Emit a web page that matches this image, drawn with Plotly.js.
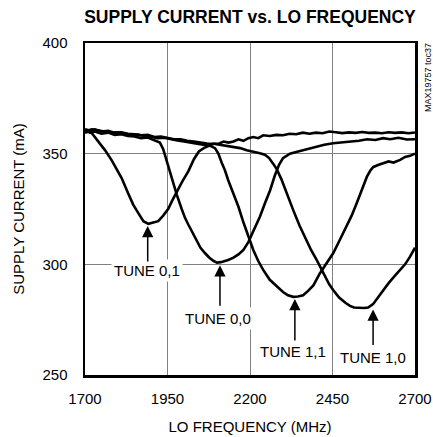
<!DOCTYPE html>
<html>
<head>
<meta charset="utf-8">
<script src="https://cdn.plot.ly/plotly-3.0.1.min.js"></script>
<style>html,body{margin:0;padding:0;background:#fff;}#chart{width:433px;height:437px;}</style>
</head>
<body>
<div id="chart"></div>
<script>
// ---- data ----
const tune01X = [1700,1712,1722,1730,1745,1761,1781,1796,1811,1831,1846,1862,1877,1892,1905,1922,1937,1952,1965,1978,1995,2013,2030,2045,2060,2075,2090,2105,2120,2135,2150,2165,2180,2195,2210,2225,2240,2260,2280,2300,2320,2340,2360,2380,2400,2420,2440,2460,2480,2500,2520,2540,2560,2580,2600,2620,2640,2660,2680,2700];
const tune01Y = [359.5,360,359,357.5,355,351.5,347,343,339,332,327,323,319.5,318.3,318.8,319.5,322,325,329,333,337.5,342,347.5,351,352.5,353.5,354.5,354.5,355.5,355,355.5,356.5,355.8,357,357.5,357,358.3,358,358.5,358.3,359,358.8,359.5,359,359.5,359.2,360,359.7,359.3,359.6,359.4,359.8,359.4,359.5,359.2,359.7,359.4,359.6,359.2,359.6];

const tune00X = [1700,1715,1730,1750,1770,1790,1810,1830,1850,1870,1890,1905,1915,1927,1937,1947,1958,1968,1978,1993,2003,2013,2025,2038,2050,2064,2077,2090,2100,2112,2125,2134,2150,2165,2180,2195,2210,2230,2245,2261,2275,2288,2300,2321,2340,2361,2380,2402,2425,2452,2475,2503,2530,2555,2580,2603,2625,2650,2675,2700];
const tune00Y = [360.5,359.5,360,359,359.5,358.5,358.8,358,357.8,357,357.3,356.5,356,355,352,347,341.5,336,331.5,325,321,318,314.5,310.5,307.5,305,303,301.5,300.8,301,301.5,302,303,304.5,306.5,310,315,321.5,327.5,333.5,340,345,348,350,350.8,351.6,352.5,353,354,354.7,355,355.4,355.8,356.5,356.2,357,356.5,357.2,356.4,356.5];

const tune11X = [1700,1720,1740,1760,1780,1800,1820,1840,1860,1880,1900,1920,1940,1960,1980,2000,2020,2040,2060,2080,2094,2104,2114,2124,2134,2150,2165,2180,2195,2210,2225,2240,2260,2281,2300,2315,2331,2345,2361,2376,2392,2412,2432,2452,2472,2493,2508,2523,2538,2554,2565,2574,2590,2604,2620,2635,2655,2670,2685,2700];
const tune11Y = [360,361,360.5,360,359.5,359.5,359,358.5,358.6,358,357.8,357,357.2,356.5,356,355.5,355,354.5,354,353.5,352.5,350,346,342.5,338,332,326,319,312.5,306.5,301.5,297.5,293,290,287.5,286,285.3,285.5,286,288,290.5,296,300.5,305,311,317,322,327.5,333.5,339.5,342.5,344,345,345.8,346.5,346,347.2,348.5,349,350];

const tune10X = [1700,1715,1730,1750,1770,1790,1810,1830,1850,1870,1890,1910,1930,1950,1970,1990,2010,2030,2050,2070,2090,2110,2130,2150,2170,2190,2210,2230,2245,2258,2270,2281,2295,2310,2331,2350,2365,2385,2402,2420,2440,2452,2470,2490,2503,2515,2530,2545,2558,2573,2590,2604,2620,2640,2655,2670,2685,2700];
const tune10Y = [361,360.5,361,360,360.3,359.5,359.7,359,358.7,358.3,358.5,357.5,357.7,357,356.5,356.5,355.8,355.5,355,354.6,354.5,354,353.5,353,352.5,351.5,351,350.2,349.5,348,345.5,343,338.5,332.5,324.5,317.5,312.5,306.5,302,297,291,288.4,285,282.5,281.2,280.5,280.3,280.3,280.5,282,285.5,288.5,291.5,295,297.5,300,303.5,307.5];

const xTicks = [1700,1950,2200,2450,2700];
const yTicks = [250,300,350,400];
const labels = ['TUNE 0,1','TUNE 0,0','TUNE 1,1','TUNE 1,0'];

const FONT = 'Liberation Sans, Arial, sans-serif';
const lineStyle = {color:'#000', width:2.6};

const traces = [
  {x:tune01X, y:tune01Y, name:labels[0]},
  {x:tune00X, y:tune00Y, name:labels[1]},
  {x:tune11X, y:tune11Y, name:labels[2]},
  {x:tune10X, y:tune10Y, name:labels[3]}
].map(t => Object.assign(t, {type:'scatter', mode:'lines', line:lineStyle, hoverinfo:'skip'}));

// label boxes (text) and arrows pointing at each dip
const textPos = [[1888,297.4],[2103,275.7],[2330,260.8],[2573,258.1]];
const arrowTip = [[1890,317.3],[2109,299.6],[2336,284.3],[2573,279.6]];
const arrowLen = [37,42,43,37];

const annotations = [];
labels.forEach((lab,i)=>{
  annotations.push({x:textPos[i][0], y:textPos[i][1], xref:'x', yref:'y', text:lab,
    showarrow:false, font:{family:FONT, size:15, color:'#000'}, bgcolor:'#fff', borderpad:2});
  annotations.push({x:arrowTip[i][0], y:arrowTip[i][1], xref:'x', yref:'y', text:'',
    showarrow:true, arrowhead:2, arrowsize:1.5, arrowwidth:1.5, arrowcolor:'#000', ax:0, ay:arrowLen[i]});
});
annotations.push({x:1.04, y:0.895, xref:'paper', yref:'paper', xanchor:'center', yanchor:'middle',
  text:'MAX19757 toc37', showarrow:false, textangle:-90, font:{family:FONT, size:9, color:'#000'}});

const layout = {
  width:433, height:437,
  margin:{l:85, r:18, t:43, b:62},
  paper_bgcolor:'#fff', plot_bgcolor:'#fff',
  font:{family:FONT, size:15, color:'#000'},
  showlegend:false,
  title:{text:'SUPPLY CURRENT vs. LO FREQUENCY', font:{family:FONT, size:17.5, weight:'bold', color:'#000'},
    x:0.5, xref:'paper', y:1-17/437, yref:'container', yanchor:'middle'},
  xaxis:{range:[1700,2700], tickvals:xTicks, ticktext:xTicks.map(String),
    showgrid:true, gridcolor:'#808080', gridwidth:1, zeroline:false,
    showline:true, linecolor:'#000', linewidth:2.5, mirror:true,
    ticks:'outside', ticklen:8, tickcolor:'rgba(0,0,0,0)',
    tickfont:{family:FONT, size:15, color:'#000'},
    title:{text:'LO FREQUENCY (MHz)', font:{family:FONT, size:15, color:'#000'}, standoff:16}},
  yaxis:{range:[250,400], tickvals:yTicks, ticktext:yTicks.map(String),
    showgrid:true, gridcolor:'#808080', gridwidth:1, zeroline:false,
    showline:true, linecolor:'#000', linewidth:2.5, mirror:true,
    ticks:'outside', ticklen:12, tickcolor:'rgba(0,0,0,0)',
    tickfont:{family:FONT, size:15, color:'#000'},
    title:{text:'SUPPLY CURRENT (mA)', font:{family:FONT, size:15, color:'#000'}, standoff:14}},
  annotations:annotations
};

Plotly.newPlot('chart', traces, layout, {staticPlot:true, displayModeBar:false});
</script>
</body>
</html>
